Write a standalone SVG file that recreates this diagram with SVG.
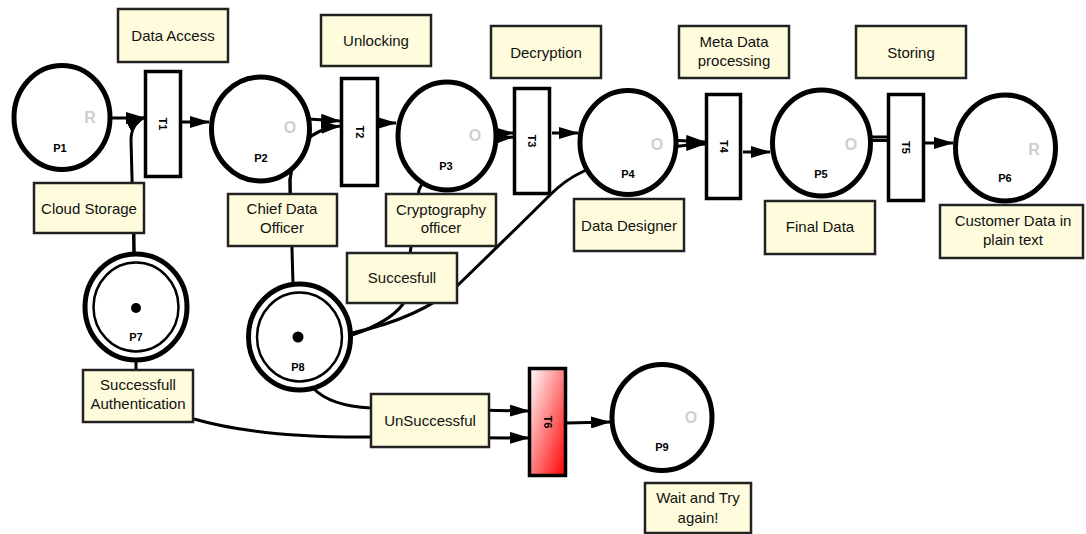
<svg xmlns="http://www.w3.org/2000/svg" width="1086" height="534" viewBox="0 0 1086 534">
<defs>
<marker id="arr" markerUnits="userSpaceOnUse" markerWidth="20" markerHeight="12" refX="19" refY="6" orient="auto">
<path d="M0,0 L20,6 L0,12 z" fill="#000"/>
</marker>
<linearGradient id="red" x1="0" y1="0" x2="1" y2="1">
<stop offset="0" stop-color="#ffffff"/>
<stop offset="1" stop-color="#ff0000"/>
</linearGradient>
<style>
.c{fill:none;stroke:#000;stroke-width:3}
.a{marker-end:url(#arr)}
.pl{fill:#fff;stroke:#000;stroke-width:5}
.in{fill:none;stroke:#000;stroke-width:2.5}
.tr{fill:#fff;stroke:#000;stroke-width:3.5}
.lb{fill:#fefcdc;stroke:#222;stroke-width:2.5}
.t{font-family:"Liberation Sans",Arial,sans-serif;font-size:15px;fill:#111;text-anchor:middle}
.pn{font-family:"Liberation Sans",Arial,sans-serif;font-size:11px;font-weight:bold;fill:#000;text-anchor:middle}
.g{font-family:"Liberation Sans",Arial,sans-serif;font-size:16px;font-weight:bold;fill:#cfcfcf;text-anchor:middle}
</style>
</defs>
<rect width="1086" height="534" fill="#fff"/>
<g id="connectors">
<path class="c a" d="M112,118 L145,118"/>
<path class="c a" d="M134,253 L131,140 Q131,124 145,117"/>
<path class="c a" d="M182,122 L209,122"/>
<path class="c a" d="M308,119 L340,121"/>
<path class="c a" d="M293,284 L290,180 Q296,130 340,126"/>
<path class="c a" d="M379,123 L396,123"/>
<path class="c a" d="M490,133 L513,133"/>
<path class="c a" d="M352,335 Q390,322 403,304 L419,190 Q440,142 513,137"/>
<path class="c a" d="M552,133 L578,133"/>
<path class="c a" d="M670,140 L705,142"/>
<path class="c a" d="M352,333 Q420,318 458,285 Q520,225 550,195 Q565,180 582,172 Q630,148 705,144"/>
<path class="c a" d="M743,152 L770,152"/>
<path class="c" d="M870,137 L888,137"/>
<path class="c" d="M870,140.5 L888,140.5"/>
<path class="c a" d="M925,143 L953,143"/>
<path class="c" d="M290,178 L290,194"/>
<path class="c" d="M134,233 L134,253"/>
<path class="c" d="M136,362 L136,370"/>
<path class="c a" d="M313,388 Q330,406 371,408 L529,411"/>
<path class="c a" d="M194,419 Q260,438 371,437 L529,438"/>
<path class="c a" d="M567,423 L610,422"/>
</g>
<g id="P1"><ellipse class="pl" cx="62" cy="117.5" rx="48" ry="52"/><text class="g" x="90" y="123">R</text><text class="pn" x="60" y="152">P1</text></g>
<g id="P2"><ellipse class="pl" cx="260.5" cy="129" rx="49" ry="52"/><text class="g" x="290" y="133">O</text><text class="pn" x="261" y="162">P2</text></g>
<g id="P3"><ellipse class="pl" cx="447" cy="136" rx="49" ry="54"/><text class="g" x="475" y="141">O</text><text class="pn" x="446" y="170">P3</text></g>
<g id="P4"><ellipse class="pl" cx="628" cy="142.5" rx="48" ry="52"/><text class="g" x="657" y="150">O</text><text class="pn" x="628" y="178">P4</text></g>
<g id="P5"><ellipse class="pl" cx="821.5" cy="143" rx="49" ry="53"/><text class="g" x="851" y="150">O</text><text class="pn" x="821" y="178">P5</text></g>
<g id="P6"><ellipse class="pl" cx="1005.5" cy="148" rx="50" ry="53"/><text class="g" x="1034" y="155">R</text><text class="pn" x="1005" y="182">P6</text></g>
<g id="P7"><ellipse class="pl" cx="136" cy="307" rx="51" ry="53"/><ellipse class="in" cx="136" cy="307" rx="42.5" ry="44.5"/><circle cx="136" cy="308" r="5" fill="#000"/><text class="pn" x="136" y="341">P7</text></g>
<g id="P8"><ellipse class="pl" cx="299.5" cy="337" rx="51" ry="53"/><ellipse class="in" cx="299.5" cy="337" rx="42.5" ry="44.5"/><circle cx="298" cy="337" r="5.5" fill="#000"/><text class="pn" x="298" y="371">P8</text></g>
<g id="P9"><ellipse class="pl" cx="662" cy="417.5" rx="50" ry="53"/><text class="g" x="691" y="423">O</text><text class="pn" x="662" y="451">P9</text></g>
<g id="T1"><rect class="tr" x="145.5" y="71.5" width="35" height="105"/><text class="pn" transform="translate(163,124) rotate(90)" dominant-baseline="central">T1</text></g>
<g id="T2"><rect class="tr" x="341.5" y="78.5" width="36" height="107"/><text class="pn" transform="translate(359.5,132) rotate(90)" dominant-baseline="central">T2</text></g>
<g id="T3"><rect class="tr" x="514.5" y="88.5" width="35" height="105"/><text class="pn" transform="translate(532,141) rotate(90)" dominant-baseline="central">T3</text></g>
<g id="T4"><rect class="tr" x="706.5" y="94.5" width="34" height="104"/><text class="pn" transform="translate(723.5,146.5) rotate(90)" dominant-baseline="central">T4</text></g>
<g id="T5"><rect class="tr" x="888.5" y="94.5" width="35" height="106"/><text class="pn" transform="translate(906,147.5) rotate(90)" dominant-baseline="central">T5</text></g>
<g id="T6"><rect class="tr" x="529.5" y="368.5" width="36" height="107" style="fill:url(#red)"/><text class="pn" transform="translate(547.5,422) rotate(90)" dominant-baseline="central">T6</text></g>
<g id="L_DataAccess"><rect class="lb" x="118" y="9" width="110" height="53"/><text class="t" x="173" y="41">Data Access</text></g>
<g id="L_Unlocking"><rect class="lb" x="321" y="15" width="110" height="51"/><text class="t" x="376" y="46">Unlocking</text></g>
<g id="L_Decryption"><rect class="lb" x="491" y="26" width="110" height="52"/><text class="t" x="546" y="58">Decryption</text></g>
<g id="L_Meta"><rect class="lb" x="679" y="26" width="110" height="52"/><text class="t" x="734" y="47">Meta Data</text><text class="t" x="734" y="66">processing</text></g>
<g id="L_Storing"><rect class="lb" x="856" y="26" width="110" height="52"/><text class="t" x="911" y="58">Storing</text></g>
<g id="L_Cloud"><rect class="lb" x="34" y="183" width="110" height="50"/><text class="t" x="89" y="214">Cloud Storage</text></g>
<g id="L_Chief"><rect class="lb" x="228" y="194" width="109" height="52"/><text class="t" x="282" y="214">Chief Data</text><text class="t" x="282" y="233">Officer</text></g>
<g id="L_Crypto"><rect class="lb" x="386" y="194" width="110" height="52"/><text class="t" x="441" y="215">Cryptography</text><text class="t" x="441" y="233">officer</text></g>
<g id="L_Designer"><rect class="lb" x="574" y="199" width="110" height="52"/><text class="t" x="629" y="231">Data Designer</text></g>
<g id="L_Final"><rect class="lb" x="765" y="201" width="110" height="53"/><text class="t" x="820" y="232">Final Data</text></g>
<g id="L_Customer"><rect class="lb" x="940" y="205" width="143" height="53"/><text class="t" x="1013" y="226">Customer Data in</text><text class="t" x="1013" y="245">plain text</text></g>
<g id="L_Succesfull"><rect class="lb" x="347" y="253" width="110" height="50"/><text class="t" x="402" y="283">Succesfull</text></g>
<g id="L_Auth"><rect class="lb" x="83" y="370" width="110" height="52"/><text class="t" x="138" y="390">Successfull</text><text class="t" x="138" y="409">Authentication</text></g>
<g id="L_UnSuccessful"><rect class="lb" x="371" y="394" width="118" height="53"/><text class="t" x="430" y="426">UnSuccessful</text></g>
<g id="L_Wait"><rect class="lb" x="645" y="483" width="106" height="50"/><text class="t" x="698" y="503">Wait and Try</text><text class="t" x="698" y="523">again!</text></g>
</svg>
